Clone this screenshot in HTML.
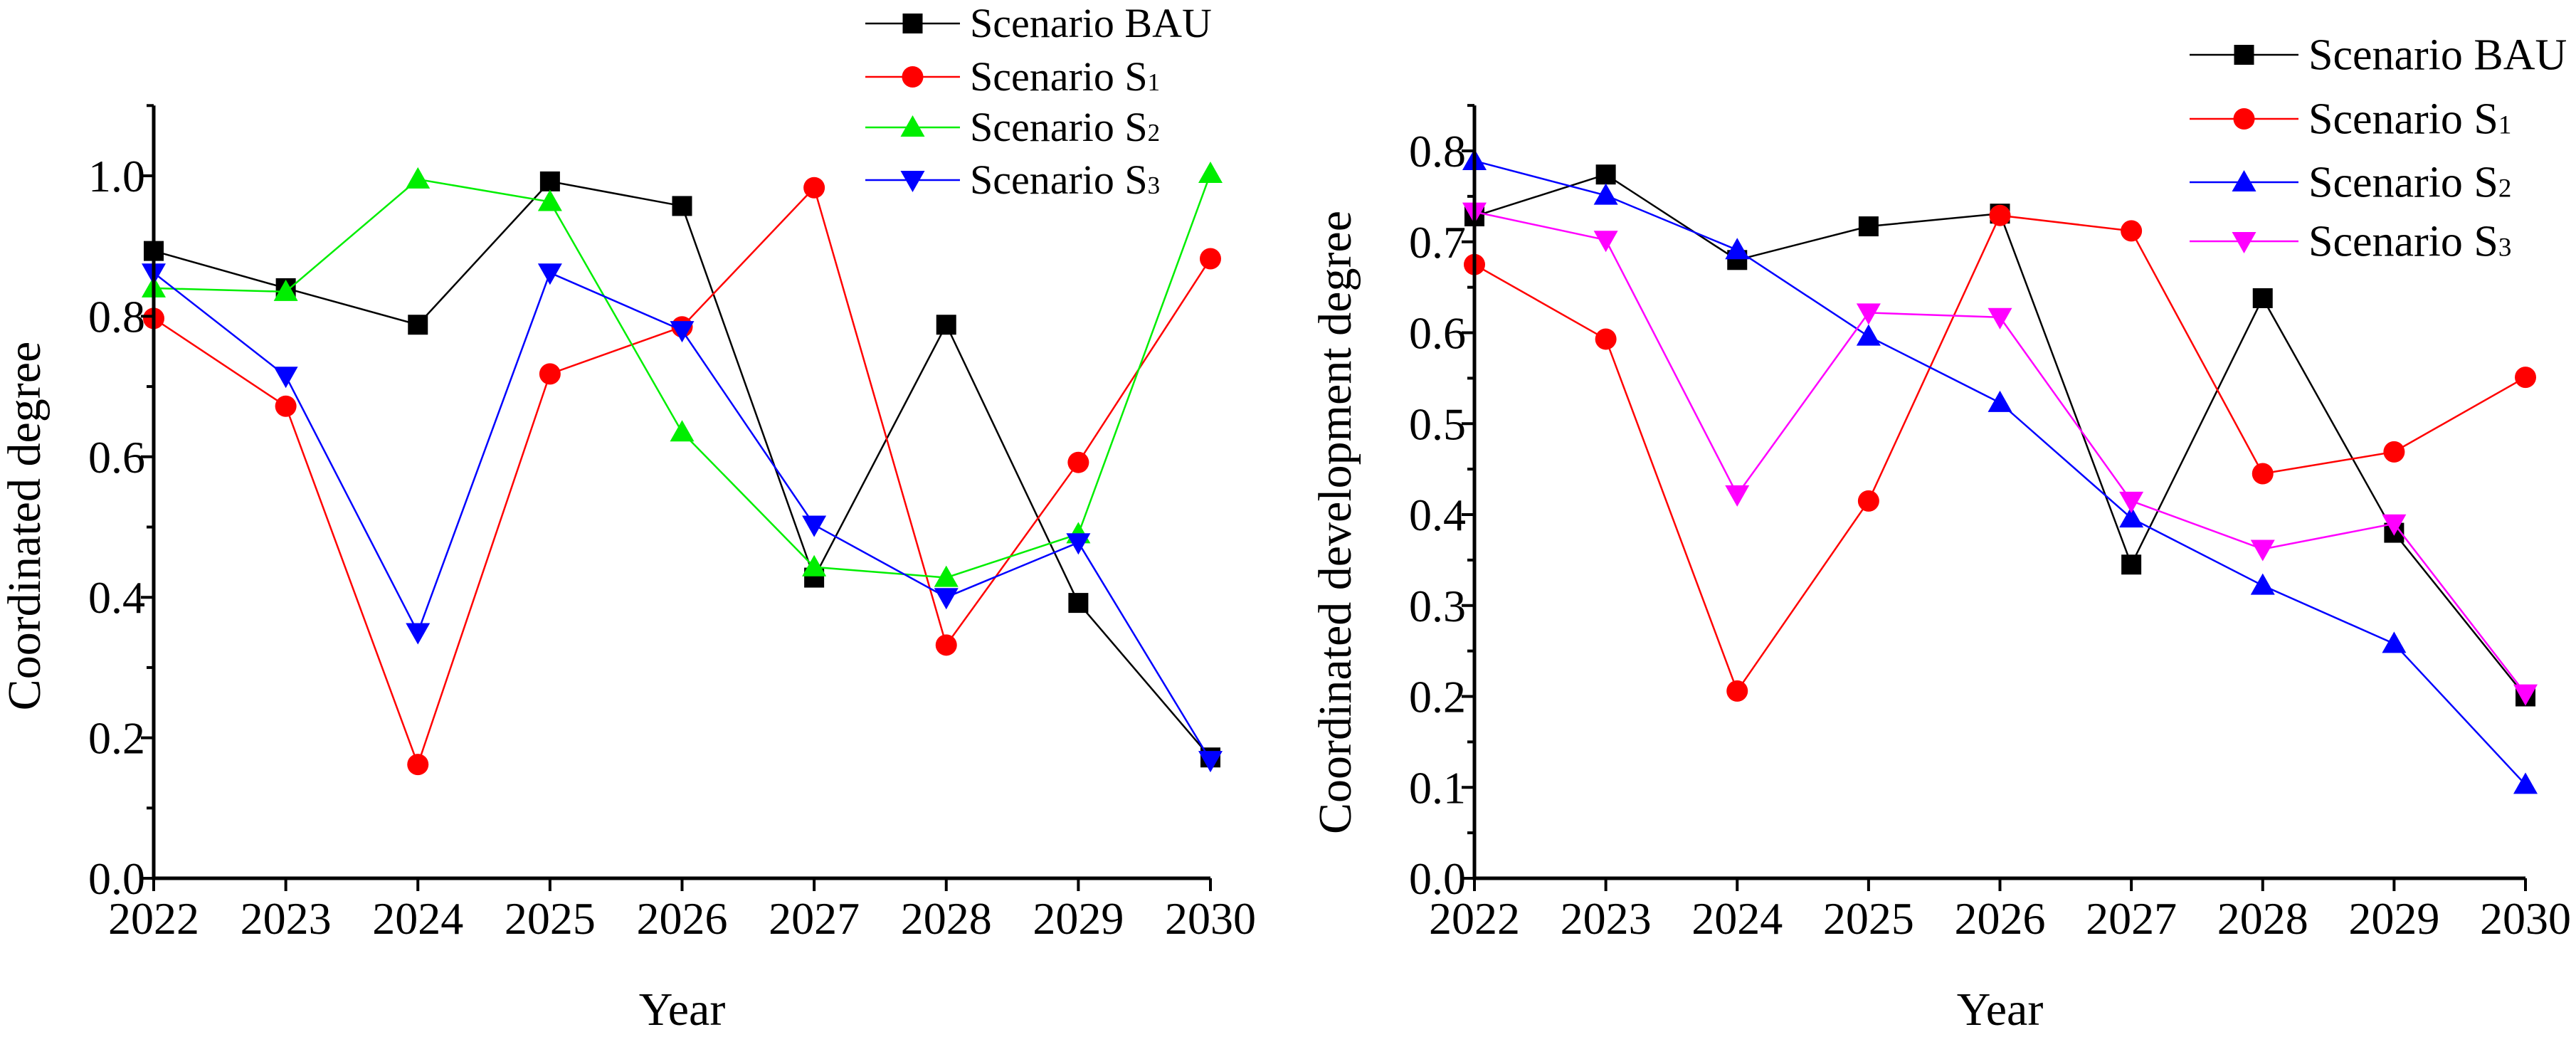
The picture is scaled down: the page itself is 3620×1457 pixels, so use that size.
<!DOCTYPE html>
<html><head><meta charset="utf-8"><style>
html,body{margin:0;padding:0;background:#fff;}
svg{display:block;font-family:"Liberation Serif",serif;}
text{font-family:"Liberation Serif",serif;}
</style></head><body>
<svg id="chart" width="3620" height="1457" viewBox="0 0 3620 1457" xmlns="http://www.w3.org/2000/svg" font-family="Liberation Serif, serif"></svg>
<script>
const years = ["2022","2023","2024","2025","2026","2027","2028","2029","2030"];
const leftBAU = [0.893,0.840,0.788,0.992,0.957,0.428,0.788,0.392,0.172];
const leftS1  = [0.797,0.672,0.162,0.718,0.785,0.983,0.332,0.592,0.882];
const leftS2  = [0.840,0.835,0.995,0.963,0.635,0.443,0.428,0.490,1.003];
const leftS3  = [0.862,0.715,0.350,0.862,0.780,0.503,0.400,0.478,0.168];
const rightBAU = [0.728,0.774,0.680,0.717,0.731,0.345,0.638,0.380,0.200];
const rightS1  = [0.675,0.593,0.206,0.415,0.729,0.712,0.445,0.469,0.551];
const rightS2  = [0.789,0.751,0.691,0.596,0.523,0.396,0.322,0.258,0.103];
const rightS3  = [0.733,0.702,0.422,0.622,0.617,0.415,0.362,0.390,0.203];
const leftTicks = ["0.0","0.2","0.4","0.6","0.8","1.0"];
const rightTicks = ["0.0","0.1","0.2","0.3","0.4","0.5","0.6","0.7","0.8"];

const NS="http://www.w3.org/2000/svg";
const FF="Liberation Serif, serif";
const svg=document.getElementById('chart');
function mk(tag,attrs,parent){const e=document.createElementNS(NS,tag);for(const k in attrs)e.setAttribute(k,attrs[k]);if(tag==='text')e.setAttribute('font-family',FF);(parent||svg).appendChild(e);return e;}

function marker(g,shape,x,y,color){
  const s=15;let e;
  if(shape==='square') e=mk('rect',{x:x-s+1,y:y-s+1,width:2*s-2,height:2*s-2,fill:color},g);
  else if(shape==='circle') e=mk('circle',{cx:x,cy:y,r:s,fill:color},g);
  else if(shape==='up') e=mk('polygon',{points:`${x},${y-s-2} ${x+s+2},${y+s-2} ${x-s-2},${y+s-2}`,fill:color},g);
  else e=mk('polygon',{points:`${x},${y+s+2} ${x+s+2},${y-s+2} ${x-s-2},${y-s+2}`,fill:color},g);
  return e;
}

function panel(cfg){
  const g=mk('g',{});
  
  
  const X=i=>cfg.x0+(cfg.x1-cfg.x0)*i/(years.length-1);
  const Y=v=>cfg.y0-(cfg.y0-cfg.yRef)*v/cfg.refVal;
  cfg.series.forEach(s=>{
    const sg=mk('g',{},g);
    
    
    const pts=s.data.map((v,i)=>X(i)+','+Y(v)).join(' ');
    const pl=mk('polyline',{points:pts,fill:'none',stroke:s.color,'stroke-width':2.5},sg);
    
    
    s.data.forEach((v,i)=>{
      const m=marker(sg,s.shape,X(i),Y(v),s.color);
      
      
    });
  });
  const ax=mk('path',{d:`M${cfg.x0},${Y(cfg.topVal)} L${cfg.x0},${cfg.y0} L${cfg.x1},${cfg.y0}`,fill:'none',stroke:'#000','stroke-width':5},g);
  
  
  cfg.ticks.forEach((t,i)=>{
    const v=parseFloat(t);const y=Y(v);
    mk('line',{x1:cfg.x0-18,y1:y,x2:cfg.x0,y2:y,stroke:'#000','stroke-width':4},g);
    const tx=mk('text',{x:cfg.x0-12,y:y+22,'text-anchor':'end','font-size':64},g);
    tx.textContent=t;
    
    
  });
  for(let v=cfg.minor;v<cfg.topVal+1e-9;v+=cfg.minor*2){
    const y=Y(v);mk('line',{x1:cfg.x0-10,y1:y,x2:cfg.x0,y2:y,stroke:'#000','stroke-width':4},g);
  }
  years.forEach((yr,i)=>{
    const x=X(i);
    mk('line',{x1:x,y1:cfg.y0,x2:x,y2:cfg.y0+18,stroke:'#000','stroke-width':4},g);
    const tx=mk('text',{x:x,y:cfg.y0+78,'text-anchor':'middle','font-size':64},g);
    tx.textContent=yr;
    
    
  });
  const xt=mk('text',{x:(cfg.x0+cfg.x1)/2,y:1440,'text-anchor':'middle','font-size':66},g);
  xt.textContent='Year';
  
  
  const yt=mk('text',{x:0,y:0,'text-anchor':'middle','font-size':66,transform:`translate(${cfg.ytx},${cfg.yty}) rotate(-90)`},g);
  yt.textContent=cfg.ytitle;
  yt.setAttribute('xml:space','preserve');
  
  
  const lg=mk('g',{},g);
  
  
  cfg.series.forEach((s,i)=>{
    const y=cfg.legY[i];
    const eg=mk('g',{},lg);
    
    
    mk('line',{x1:cfg.legX0,y1:y,x2:cfg.legX1,y2:y,stroke:s.color,'stroke-width':2.5},eg);
    marker(eg,s.shape,(cfg.legX0+cfg.legX1)/2,y,s.color);
    const tx=mk('text',{x:cfg.legX1+14,y:y+cfg.legFs*0.33,'font-size':cfg.legFs},eg);
    tx.innerHTML=s.label.replace('SUB','<tspan font-size="'+Math.round(cfg.legFs*0.6)+'">').replace('/SUB','</tspan>');
  });
}

panel({name:'left-chart',x0:216,x1:1701,y0:1234,yRef:247,refVal:1.0,topVal:1.1,minor:0.1,
  ticks:leftTicks,ytitle:'Coordinated  degree',ytx:56,yty:739,
  legX0:1216,legX1:1349,legY:[33,108,179,253],legFs:58,
  series:[
    {id:'series-bau',label:'Scenario BAU',data:leftBAU,color:'#000',shape:'square'},
    {id:'series-s1',label:'Scenario SSUB1/SUB',data:leftS1,color:'#ff0000',shape:'circle'},
    {id:'series-s2',label:'Scenario SSUB2/SUB',data:leftS2,color:'#00ee00',shape:'up'},
    {id:'series-s3',label:'Scenario SSUB3/SUB',data:leftS3,color:'#0000ff',shape:'down'}
  ]});
panel({name:'right-chart',x0:2072,x1:3549,y0:1234,yRef:212,refVal:0.8,topVal:0.85,minor:0.05,
  ticks:rightTicks,ytitle:'Coordinated development degree',ytx:1898,yty:734,
  legX0:3077,legX1:3230,legY:[77,167,256,339],legFs:62,
  series:[
    {id:'series-bau',label:'Scenario BAU',data:rightBAU,color:'#000',shape:'square'},
    {id:'series-s1',label:'Scenario SSUB1/SUB',data:rightS1,color:'#ff0000',shape:'circle'},
    {id:'series-s2',label:'Scenario SSUB2/SUB',data:rightS2,color:'#0000ff',shape:'up'},
    {id:'series-s3',label:'Scenario SSUB3/SUB',data:rightS3,color:'#ff00ff',shape:'down'}
  ]});
</script>
</body></html>
